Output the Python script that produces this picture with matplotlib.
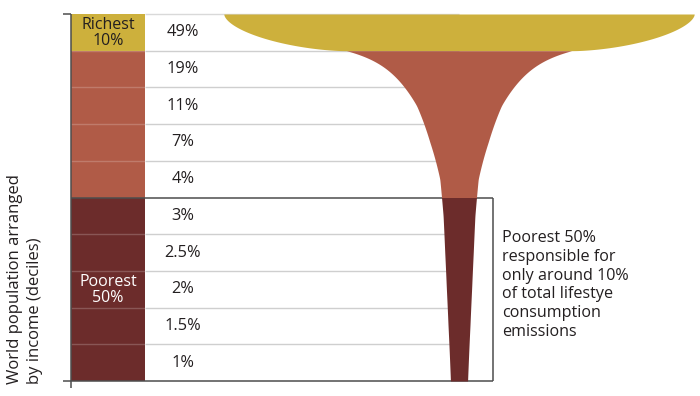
import numpy as np
import matplotlib.pyplot as plt

plt.rcParams['font.family'] = ['Open Sans', 'DejaVu Sans']

# share of lifestyle consumption emissions, richest decile first
shares = [49, 19, 11, 7, 4, 3, 2.5, 2, 1.5, 1]
share_labels = ["49%", "19%", "11%", "7%", "4%", "3%", "2.5%", "2%", "1.5%", "1%"]
groups = ["rich", "mid", "mid", "mid", "mid", "poor", "poor", "poor", "poor", "poor"]
group_text = {0: "Richest\n10%", 7: "Poorest\n50%"}
note = ("Poorest 50%\nresponsible for\nonly around 10%\n"
        "of total lifestye\nconsumption\nemissions")
ylabel = "World population arranged\nby income (deciles)"

colors = {"rich": "#CDB03C", "mid": "#B05B47", "poor": "#6C2C2B"}
txt = "#231f20"

# layout in pixels
W, H = 700, 396
top, bot = 14, 381
row = (bot - top) / 10
col_l, col_r = 71, 145
cx = 459            # funnel centre
box_r = 493
px_per_pct = 3.3    # half width of the stem per percent point
stem = 6.0
lip = 25.0
rim = 4.8

fig = plt.figure(figsize=(W / 100, H / 100), dpi=100)
ax = fig.add_axes([0, 0, 1, 1])
ax.set_xlim(0, W)
ax.set_ylim(10 + (H - bot) / row, -top / row)
ax.axis('off')

n = len(shares)
rows = np.arange(n) + 0.5

# left colour column
ax.barh(rows, col_r - col_l, left=col_l, height=1,
        color=[colors[g] for g in groups], zorder=2)

# funnel profile derived from shares
tc = rows[1:]
logh = np.log(px_per_pct * np.array(shares[1:]) + stem)
t = np.linspace(0, 10, 4001)


def base(tt):
    lh = np.interp(tt, tc, logh)
    lo = tt < tc[0]
    lh[lo] = logh[0] + (tt[lo] - tc[0]) * (logh[1] - logh[0])
    hi = tt > tc[-1]
    lh[hi] = logh[-1] + (tt[hi] - tc[-1]) * (logh[-1] - logh[-2])
    return lh


# light smoothing of the log profile to hide the knots
tt = np.linspace(-1, 11, 3601)
lh = base(tt)
k = np.exp(-0.5 * (np.linspace(-0.3, 0.3, 91) / 0.08) ** 2)
k /= k.sum()
lh = np.convolve(np.pad(lh, 45, mode='edge'), k, mode='valid')
hb = np.exp(np.interp(t, tt, lh))
h1 = np.exp(np.interp(1.0, tt, lh)) + lip
h = hb + lip * np.exp(-(t - 1) / 0.27)
g = t < 1
h[g] = h1 + (rim * shares[0] - h1) * (1 - t[g] ** 1.7) ** (1 / 1.7)

for m, c in [((t <= 1.0), colors["rich"]),
             ((t >= 1.0) & (t <= 5.0), colors["mid"]),
             ((t >= 5.0), colors["poor"])]:
    ax.fill_betweenx(t[m], cx - h[m], cx + h[m], color=c, lw=0, zorder=5)

# row separators
ax.hlines(0, col_r, cx, color="#d9d9d9", lw=1, zorder=1)
for i in range(1, n):
    if i == 5:
        continue
    ax.hlines(i, col_r, cx, color="#cfcfcf", lw=1, zorder=1)
    ax.hlines(i, col_l, col_r, color="white", lw=1, alpha=0.2, zorder=3)

# box around the poorest half and the axis
lk = dict(color="#4d4d4d", lw=1.1, zorder=4, solid_capstyle='butt')
ax.plot([col_l, box_r], [5, 5], **lk)
ax.plot([box_r, box_r], [5, 10], **lk)
ax.plot([63, box_r], [10, 10], **lk)
ax.plot([col_l, col_l], [0, 10 + 7 / row], **lk)
ax.plot([63, col_l], [0, 0], **lk)

for i, lab in enumerate(share_labels):
    ax.text(183, rows[i], lab, ha='center', va='center', fontsize=11.8, color=txt, zorder=6)

for i, lab in group_text.items():
    ax.text((col_l + col_r) / 2, rows[i] + 0.02, lab, ha='center', va='center',
            fontsize=11.5, linespacing=0.95, zorder=6,
            color=txt if groups[i] == "rich" else "white")

ax.text(502, (230 - top) / row, note, ha='left', va='top', fontsize=11.6,
        linespacing=1.23, color=txt, zorder=6)

ax.text(25, (384 - top) / row, ylabel, rotation=90, ha='center', va='bottom',
        multialignment='left', fontsize=12, linespacing=1.3, color=txt)

fig.savefig("out.png", dpi=100)
